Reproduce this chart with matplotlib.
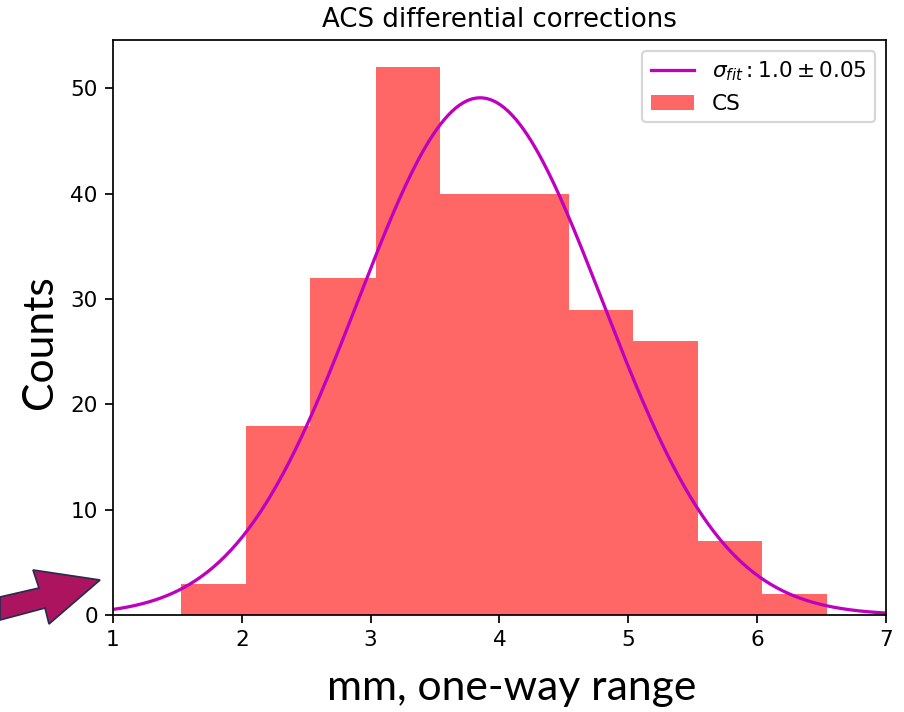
import numpy as np
import matplotlib.pyplot as plt
from matplotlib.patches import Polygon

# histogram data (bin edges and counts)
bin_edges = [1.53, 2.03, 2.53, 3.04, 3.54, 4.04, 4.54, 5.04, 5.54, 6.04, 6.54]
counts = [3, 18, 32, 52, 40, 40, 29, 26, 7, 2]

# gaussian fit parameters
fit_mu = 3.85
fit_sigma = 0.95
fit_amp = 49.1
fit_label = r'$\sigma_{fit}: 1.0 \pm 0.05$'

# screenshot is a default matplotlib figure blown up ~1.56x, so use dpi 156
DPI = 156
fig = plt.figure(figsize=(904 / DPI, 712 / DPI), dpi=DPI)
ax = fig.add_axes([0.125, 0.136, 0.855, 0.808])

widths = np.diff(bin_edges)
ax.bar(bin_edges[:-1], counts, width=widths, align='edge', color='red', alpha=0.6,
       label='CS')

x = np.linspace(1, 7, 400)
y = fit_amp * np.exp(-(x - fit_mu) ** 2 / (2 * fit_sigma ** 2))
ax.plot(x, y, color='m', label=fit_label)

ax.set_xlim(1, 7)
ax.set_ylim(0, max(counts) * 1.05)
ax.set_xticks(range(1, 8))
ax.set_yticks(range(0, 60, 10))
ax.set_title('ACS differential corrections')
ax.legend(loc='upper right')

# big slide-style labels
fig.text(0.044, 0.52, 'Counts', rotation=90, ha='center', va='center',
         fontsize=19.7, family='Lato')
fig.text(0.566, 0.017, 'mm, one-way range', ha='center', va='baseline',
         fontsize=19.7, family='Lato')

# arrow decoration (pixel coords -> figure fraction)
pts = [(0, 597), (39, 588), (33, 570), (100, 580), (49, 624), (45, 608), (0, 620)]
pts = [(px / 904, 1 - py / 712) for px, py in pts]
fig.patches.append(Polygon(pts, closed=True, transform=fig.transFigure,
                           facecolor='#AC1460', edgecolor='#2B2B50', lw=0.8))

fig.savefig('out.png', dpi=DPI)
